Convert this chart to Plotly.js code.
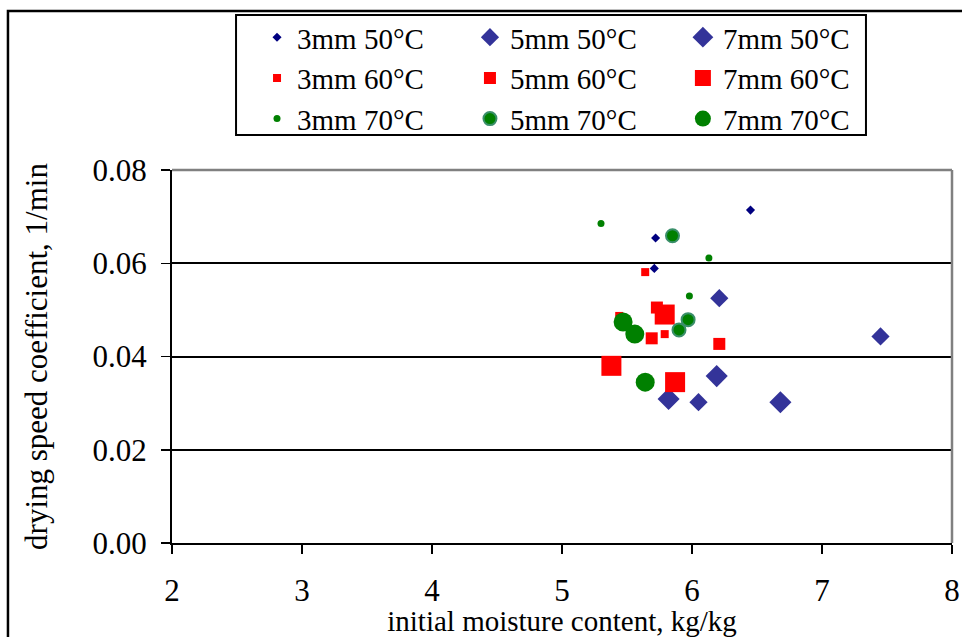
<!DOCTYPE html>
<html>
<head>
<meta charset="utf-8">
<script src="https://cdn.plot.ly/plotly-3.0.1.min.js"></script>
<style>html,body{margin:0;padding:0;background:#fff;}#chart{width:962px;height:637px;}</style>
</head>
<body>
<div id="chart"></div>
<script>
// ---- data ----
var names = ["3mm 50°C","5mm 50°C","7mm 50°C","3mm 60°C","5mm 60°C","7mm 60°C","3mm 70°C","5mm 70°C","7mm 70°C"];
var x3_50 = [5.72, 5.71, 6.45];  var y3_50 = [0.0654, 0.0589, 0.0714];
var x5_50 = [6.21, 7.45, 6.05];  var y5_50 = [0.0525, 0.0443, 0.0302];
var x7_50 = [6.19, 5.82, 6.68];  var y7_50 = [0.0358, 0.0309, 0.0302];
var x3_60 = [5.64, 5.44, 5.79];  var y3_60 = [0.0581, 0.0487, 0.0448];
var x5_60 = [5.73, 5.69, 6.21];  var y5_60 = [0.0505, 0.0439, 0.0427];
var x7_60 = [5.79, 5.38, 5.87];  var y7_60 = [0.0490, 0.0380, 0.0345];
var x3_70 = [5.30, 6.13, 5.98];  var y3_70 = [0.0685, 0.0611, 0.0530];
var x5_70 = [5.85, 5.97, 5.90];  var y5_70 = [0.0659, 0.0479, 0.0457];
var x7_70 = [5.47, 5.56, 5.64];  var y7_70 = [0.0474, 0.0448, 0.0345];
var xTicks = [2, 3, 4, 5, 6, 7, 8];
var yTicks = [0, 0.02, 0.04, 0.06, 0.08];

var FONT = "Liberation Serif, Times New Roman, serif";
function tr(name, x, y, sym, size, color, legend, line) {
  return {type: 'scatter', mode: 'markers', name: name, x: x, y: y, legend: legend,
    marker: {symbol: sym, size: size, color: color, line: line || {width: 0}}};
}
var data = [
  tr(names[0], x3_50, y3_50, 'diamond', 7, '#000080', 'legend'),
  tr(names[1], x5_50, y5_50, 'diamond', 14, '#333399', 'legend2'),
  tr(names[2], x7_50, y7_50, 'diamond', 17, '#333399', 'legend3'),
  tr(names[3], x3_60, y3_60, 'square', 8, '#ff0000', 'legend'),
  tr(names[4], x5_60, y5_60, 'square', 12, '#ff0000', 'legend2'),
  tr(names[5], x7_60, y7_60, 'square', 20, '#ff0000', 'legend3'),
  tr(names[6], x3_70, y3_70, 'circle', 7, '#008000', 'legend'),
  tr(names[7], x5_70, y5_70, 'circle', 13, '#008000', 'legend2', {width: 2, color: '#3a8f6a'}),
  tr(names[8], x7_70, y7_70, 'circle', 19, '#008000', 'legend3'),
  {type: 'scatter', mode: 'markers', x: [], y: [], yaxis: 'y2', showlegend: false, hoverinfo: 'skip'}
];

function leg(xp) {
  return {x: xp, xref: 'paper', xanchor: 'left', y: 1.424, yref: 'paper', yanchor: 'top',
    bgcolor: 'rgba(0,0,0,0)', borderwidth: 0, tracegroupgap: 0,
    font: {family: FONT, size: 29, color: '#000'}};
}

var layout = {
  width: 962, height: 637,
  margin: {l: 172, r: 10, t: 170, b: 94, autoexpand: false},
  paper_bgcolor: '#fff', plot_bgcolor: '#fff',
  font: {family: FONT, size: 29, color: '#000'},
  showlegend: true,
  legend: leg(0.109), legend2: leg(0.382), legend3: leg(0.655),
  xaxis: {
    range: [2, 8], tickvals: xTicks, ticktext: xTicks.map(String),
    showgrid: false, zeroline: false, showline: true, linecolor: '#000', linewidth: 2,
    ticks: 'outside', ticklen: 9, tickwidth: 1.5, tickcolor: '#000', ticklabelstandoff: 10,
    tickfont: {family: FONT, size: 31, color: '#000'},
    title: {text: 'initial moisture content, kg/kg', standoff: 0, font: {family: FONT, size: 29, color: '#000'}}
  },
  yaxis: {
    range: [0, 0.08], tickvals: yTicks, tickformat: '.2f',
    showgrid: true, gridcolor: '#000', gridwidth: 2, zeroline: false,
    showline: true, linecolor: '#000', linewidth: 2,
    ticks: 'outside', ticklen: 9, tickwidth: 1.5, tickcolor: '#000', ticklabelstandoff: 8,
    tickfont: {family: FONT, size: 31, color: '#000'},
    title: {text: 'drying speed coefficient, 1/min', standoff: 36, font: {family: FONT, size: 31, color: '#000'}}
  },
  yaxis2: {
    overlaying: 'y', anchor: 'x', side: 'left', range: [0, 0.08], tickvals: yTicks,
    showgrid: false, zeroline: false, showline: false, showticklabels: false,
    ticks: 'inside', ticklen: 9, tickwidth: 1.5, tickcolor: '#000'
  },
  shapes: [
    {type: 'line', xref: 'paper', yref: 'paper', x0: 0, x1: 1, y0: 1, y1: 1, line: {color: '#808080', width: 2.5}, layer: 'above'},
    {type: 'line', xref: 'paper', yref: 'paper', x0: 1, x1: 1, y0: 0, y1: 1, line: {color: '#808080', width: 2.5}, layer: 'above'},
    {type: 'rect', xref: 'paper', yref: 'paper', x0: 0.0821, x1: 0.8897, y0: 1.0938, y1: 1.4155, line: {color: '#000', width: 2}, fillcolor: 'rgba(0,0,0,0)', layer: 'above'},
    {type: 'rect', xref: 'paper', yref: 'paper', x0: -0.2103, x1: 1.08, y0: -0.35, y1: 1.4263, line: {color: '#000', width: 2.5}, fillcolor: 'rgba(0,0,0,0)', layer: 'above'}
  ]
};

Plotly.newPlot('chart', data, layout, {displayModeBar: false, staticPlot: true});
</script>
</body>
</html>
